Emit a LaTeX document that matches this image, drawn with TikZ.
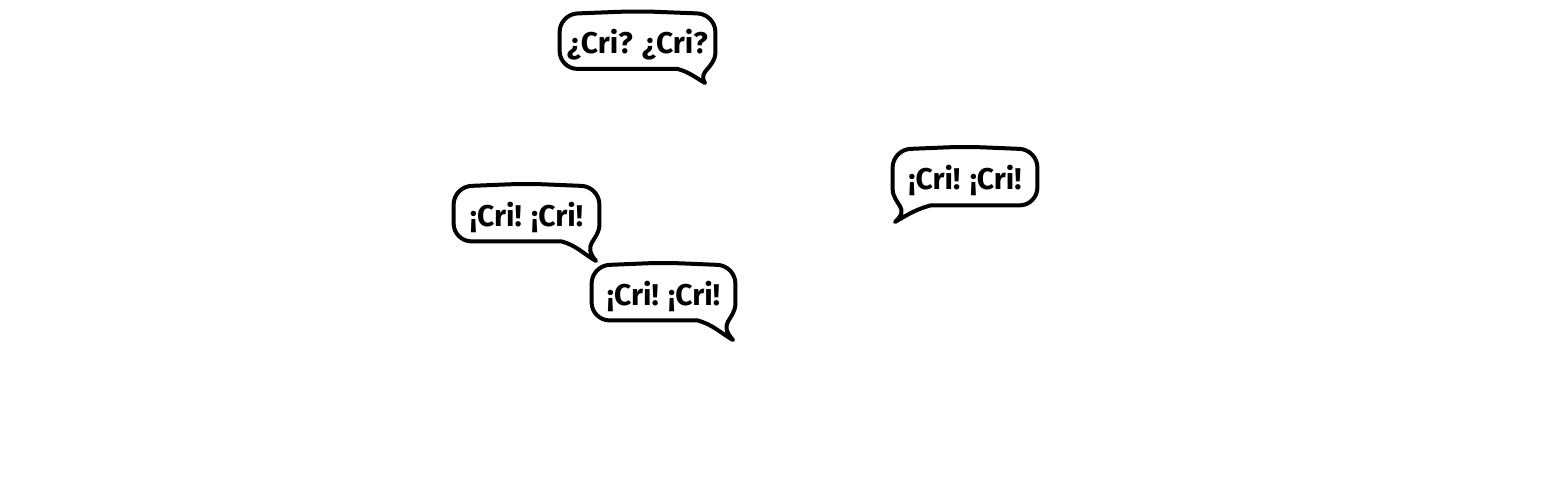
\documentclass[tikz,border=0pt]{standalone}
\usepackage{fontspec}
\setmainfont{Fira Sans}
% speech bubble, tail at the lower right
\newcommand{\tailse}[2]{%
  \draw[bubble] ([shift={(-38,0)}]#1.south east) [rounded corners=9pt] -- (#1.south west) -- (#1.north west) -- ([shift={(0,3)}]#1.north) -- (#1.north east) [sharp corners] -- ([shift={(0,16)}]#1.south east) .. controls ([shift={(-1,0)}]#1.south east) and ([shift={(-18,-2)}]#1.south east) .. (#2) to[out=150,in=-15] ([shift={(-38,0)}]#1.south east);}
% speech bubble, tail at the lower left
\newcommand{\tailsw}[2]{%
  \draw[bubble] ([shift={(38,0)}]#1.south west) [rounded corners=9pt] -- (#1.south east) -- (#1.north east) -- ([shift={(0,3)}]#1.north) -- (#1.north west) [sharp corners] -- ([shift={(0,16)}]#1.south west) .. controls ([shift={(1,0)}]#1.south west) and ([shift={(18,-2)}]#1.south west) .. (#2) to[out=30,in=195] ([shift={(38,0)}]#1.south west);}
\begin{document}
\begin{tikzpicture}[x=0.5pt,y=0.5pt]
\tikzstyle{cri} = [font=\bfseries\fontsize{15}{18}\selectfont, inner sep=0pt, minimum height=27pt, text depth=0pt] % text of a bubble
\tikzstyle{bubble} = [line width=2pt, line join=round, line cap=round] % outline of a bubble
\useasboundingbox (0,0) rectangle (1542,-488);

\node[cri, minimum width=77.5pt] (q1) at (637.5,-41.5) {¿Cri? ¿Cri?};
\node[cri, minimum width=72pt, minimum height=27.5pt] (c1) at (965,-177.5) {¡Cri! ¡Cri!};
\node[cri, minimum width=72.5pt] (c2) at (526.5,-214) {¡Cri! ¡Cri!};
\node[cri, minimum width=71.5pt] (c3) at (663.5,-293) {¡Cri! ¡Cri!};

% puntas de los globos
\coordinate (q1tip) at (705,-83);
\coordinate (c1tip) at (895,-222);
\coordinate (c2tip) at (596,-261);
\coordinate (c3tip) at (733,-340);

\tailse{q1}{q1tip}
\tailsw{c1}{c1tip}
\tailse{c2}{c2tip}
\tailse{c3}{c3tip}
\end{tikzpicture}
\end{document}
